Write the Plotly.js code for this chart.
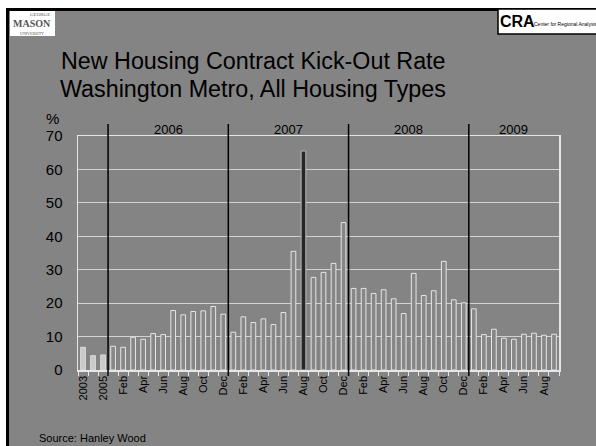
<!DOCTYPE html>
<html><head><meta charset="utf-8">
<script src="https://cdn.plot.ly/plotly-3.0.1.min.js"></script>
<style>html,body{margin:0;padding:0;background:#fff}#chart{width:596px;height:446px}</style>
</head><body><div id="chart"></div>
<script>
// Categories: annual 2003-2005, then monthly Jan 2006 - Sep 2009
var categories = ["2003","2004","2005",
 "Jan 2006","Feb 2006","Mar 2006","Apr 2006","May 2006","Jun 2006","Jul 2006","Aug 2006","Sep 2006","Oct 2006","Nov 2006","Dec 2006",
 "Jan 2007","Feb 2007","Mar 2007","Apr 2007","May 2007","Jun 2007","Jul 2007","Aug 2007","Sep 2007","Oct 2007","Nov 2007","Dec 2007",
 "Jan 2008","Feb 2008","Mar 2008","Apr 2008","May 2008","Jun 2008","Jul 2008","Aug 2008","Sep 2008","Oct 2008","Nov 2008","Dec 2008",
 "Jan 2009","Feb 2009","Mar 2009","Apr 2009","May 2009","Jun 2009","Jul 2009","Aug 2009","Sep 2009"];
var kickOutRate = [6.8,4.3,4.5,
 7.1,6.8,9.8,9.2,10.9,10.6,17.8,16.5,17.5,17.7,19.0,16.7,
 11.3,15.9,14.2,15.3,13.6,17.2,35.5,65.5,27.7,29.2,31.9,44.1,
 24.4,24.4,22.9,24.0,21.3,16.9,28.9,22.3,23.7,32.5,21.0,20.1,
 18.3,10.6,12.2,9.5,9.2,10.7,11.0,10.4,10.7];
var tickLabels = ["2003","","2005","","Feb","","Apr","","Jun","","Aug","","Oct","","Dec",
 "","Feb","","Apr","","Jun","","Aug","","Oct","","Dec",
 "","Feb","","Apr","","Jun","","Aug","","Oct","","Dec",
 "","Feb","","Apr","","Jun","","Aug",""];
var years = ["2006","2007","2008","2009"];
var highlight = "Aug 2007";

var W=596,H=446,L=78,R=37,T=136,B=76;
var pw=W-L-R, ph=H-T-B;
function px(x){return (x-L)/pw;}
function py(y){return (H-B-y)/ph;}

var xs = categories.map(function(c,i){return i;});
var fills = categories.map(function(c){
  if(c.length===4) return '#c9c9c9';
  if(c===highlight) return '#262626';
  return '#878787';
});
var lines = categories.map(function(c){
  if(c.length===4) return '#dcdcdc';
  if(c===highlight) return '#b8b8b8';
  return '#e6e6e6';
});
var tv=[],tt=[];
tickLabels.forEach(function(t,i){ if(t){tv.push(i);tt.push(t);} });

var shapes=[
  {type:'rect',xref:'paper',yref:'paper',x0:px(0),x1:px(W),y0:py(0),y1:py(8),fillcolor:'#ffffff',line:{width:0},layer:'below'},
  {type:'rect',xref:'paper',yref:'paper',x0:px(0),x1:px(6),y0:py(0),y1:py(H),fillcolor:'#ffffff',line:{width:0},layer:'below'},
  {type:'line',xref:'paper',yref:'paper',x0:px(6),x1:px(W),y0:py(9.5),y1:py(9.5),line:{color:'#000',width:3}},
  {type:'line',xref:'paper',yref:'paper',x0:px(7.5),x1:px(7.5),y0:py(8),y1:py(H),line:{color:'#000',width:3}},
  {type:'rect',xref:'paper',yref:'paper',x0:px(10),x1:px(55),y0:py(11),y1:py(36),fillcolor:'#ffffff',line:{width:0}},
  {type:'rect',xref:'paper',yref:'paper',x0:px(498),x1:px(597),y0:py(9),y1:py(34),fillcolor:'#ffffff',line:{color:'#000',width:1.5}}
];
var annotations=[
  {xref:'paper',yref:'paper',x:px(40),y:py(14),text:'GEORGE',showarrow:false,borderpad:0,font:{family:'Liberation Serif',size:5,color:'#555'},xanchor:'center',yanchor:'middle'},
  {xref:'paper',yref:'paper',x:px(32),y:py(24),text:'<b>MASON</b>',showarrow:false,borderpad:0,font:{family:'Liberation Serif',size:10,color:'#555'},xanchor:'center',yanchor:'middle'},
  {xref:'paper',yref:'paper',x:px(32),y:py(33),text:'UNIVERSITY',showarrow:false,borderpad:0,font:{family:'Liberation Serif',size:4,color:'#555'},xanchor:'center',yanchor:'middle'},
  {xref:'paper',yref:'paper',x:px(499),y:py(22),text:'<b>CRA</b>',showarrow:false,borderpad:0,font:{family:'Liberation Sans Narrow, Liberation Sans',size:16,color:'#000'},xanchor:'left',yanchor:'middle'},
  {xref:'paper',yref:'paper',x:px(533),y:py(24),text:'Center for Regional Analysis',showarrow:false,borderpad:0,font:{family:'Liberation Sans Narrow, Liberation Sans',size:5,color:'#000'},xanchor:'left',yanchor:'middle'},
  {xref:'paper',yref:'paper',x:px(253),y:py(61),text:'New Housing Contract Kick-Out Rate',showarrow:false,font:{family:'Liberation Sans, Arial',size:23.3,color:'#000'},xanchor:'center',yanchor:'middle'},
  {xref:'paper',yref:'paper',x:px(253),y:py(89),text:'Washington Metro, All Housing Types',showarrow:false,font:{family:'Liberation Sans, Arial',size:23.3,color:'#000'},xanchor:'center',yanchor:'middle'},
  {xref:'paper',yref:'paper',x:px(52),y:py(118),text:'%',showarrow:false,borderpad:0,font:{family:'Liberation Sans, Arial',size:15,color:'#000'},xanchor:'center',yanchor:'middle'},
  {xref:'paper',yref:'paper',x:px(37),y:py(438),text:'Source: Hanley Wood',showarrow:false,font:{family:'Liberation Sans, Arial',size:11,color:'#000'},xanchor:'left',yanchor:'middle'}
];
var bounds=[];
years.forEach(function(y){
  var i=categories.indexOf('Jan '+y);
  bounds.push(i-0.5);
});
bounds.forEach(function(b){
  shapes.push({type:'line',xref:'x',yref:'paper',x0:b,x1:b,y0:py(376),y1:py(124),line:{color:'#000',width:1.5}});
});
years.forEach(function(y,k){
  var a=bounds[k], e=(k+1<bounds.length)?bounds[k+1]:categories.length-0.5;
  annotations.push({xref:'x',yref:'paper',x:(a+e)/2,y:py(129),text:y,showarrow:false,font:{family:'Liberation Sans, Arial',size:13,color:'#000'},xanchor:'center',yanchor:'middle'});
});

var trace={type:'bar',x:xs,y:kickOutRate,marker:{color:fills,line:{color:lines,width:1}},hoverinfo:'skip'};
var layout={
  width:W,height:H,margin:{l:L,r:R,t:T,b:B,pad:0},
  paper_bgcolor:'#848484',plot_bgcolor:'#848484',
  showlegend:false,bargap:0.53,
  font:{family:'Liberation Sans, Arial',color:'#000'},
  xaxis:{range:[-0.5,categories.length-0.5],tickmode:'array',tickvals:tv,ticktext:tt,tickangle:-90,
    tickfont:{size:11,color:'#000'},ticks:'',showgrid:false,zeroline:false,
    showline:true,linecolor:'#e6e6e6',linewidth:1.5,mirror:true,
    minor:{tick0:-0.5,dtick:1,ticks:'outside',ticklen:4,tickcolor:'#e6e6e6',tickwidth:1,showgrid:false}},
  yaxis:{range:[0,70],dtick:10,tickfont:{size:15,color:'#000'},gridcolor:'#d2d2d2',gridwidth:1,
    showline:true,linecolor:'#e6e6e6',linewidth:1.5,mirror:true,zeroline:false,ticks:'outside',ticklen:11,tickwidth:0,tickcolor:'rgba(0,0,0,0)'},
  shapes:shapes,annotations:annotations
};
Plotly.newPlot('chart',[trace],layout,{staticPlot:true,displayModeBar:false});
</script></body></html>
